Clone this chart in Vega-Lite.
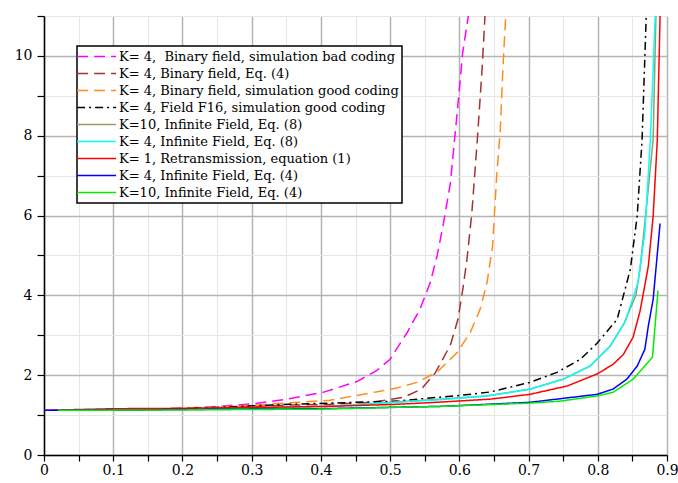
{
  "$schema": "https://vega.github.io/schema/vega-lite/v6.json",
  "width": 623,
  "height": 439,
  "autosize": {"type": "none"},
  "padding": {"left": 44, "top": 16, "right": 11, "bottom": 28},
  "background": "white",
  "config": {
    "view": {"stroke": null},
    "font": "DejaVu Serif",
    "legend": {
      "orient": "none",
      "legendX": 33,
      "legendY": 30,
      "strokeColor": "black",
      "strokeWidth": 1.5,
      "fillColor": "white",
      "padding": 3,
      "cornerRadius": 0,
      "labelFont": "DejaVu Serif",
      "labelFontSize": 13,
      "labelColor": "black",
      "labelLimit": 400,
      "labelOffset": 24,
      "symbolType": "M-1.6,0H4.4",
      "symbolSize": 169,
      "symbolStrokeWidth": 1.5,
      "rowPadding": 2
    }
  },
  "data": {
    "values": [
      {"s": "m", "x": 0.06, "y": 1.12}, {"s": "m", "x": 0.12, "y": 1.13}, {"s": "m", "x": 0.2, "y": 1.17}, {"s": "m", "x": 0.254, "y": 1.22}, {"s": "m", "x": 0.3, "y": 1.28}, {"s": "m", "x": 0.351, "y": 1.4}, {"s": "m", "x": 0.403, "y": 1.57}, {"s": "m", "x": 0.452, "y": 1.84}, {"s": "m", "x": 0.481, "y": 2.12}, {"s": "m", "x": 0.5, "y": 2.4}, {"s": "m", "x": 0.524, "y": 3.05}, {"s": "m", "x": 0.543, "y": 3.65}, {"s": "m", "x": 0.558, "y": 4.32}, {"s": "m", "x": 0.568, "y": 5.0}, {"s": "m", "x": 0.577, "y": 5.8}, {"s": "m", "x": 0.587, "y": 6.8}, {"s": "m", "x": 0.597, "y": 8.6}, {"s": "m", "x": 0.605, "y": 10.1}, {"s": "m", "x": 0.613, "y": 11},
      {"s": "b", "x": 0.06, "y": 1.12}, {"s": "b", "x": 0.15, "y": 1.14}, {"s": "b", "x": 0.25, "y": 1.18}, {"s": "b", "x": 0.355, "y": 1.25}, {"s": "b", "x": 0.413, "y": 1.27}, {"s": "b", "x": 0.475, "y": 1.32}, {"s": "b", "x": 0.52, "y": 1.45}, {"s": "b", "x": 0.545, "y": 1.65}, {"s": "b", "x": 0.565, "y": 2.05}, {"s": "b", "x": 0.587, "y": 2.75}, {"s": "b", "x": 0.598, "y": 3.4}, {"s": "b", "x": 0.605, "y": 4.15}, {"s": "b", "x": 0.611, "y": 4.9}, {"s": "b", "x": 0.618, "y": 6.05}, {"s": "b", "x": 0.626, "y": 7.9}, {"s": "b", "x": 0.633, "y": 9.7}, {"s": "b", "x": 0.637, "y": 11},
      {"s": "o", "x": 0.06, "y": 1.12}, {"s": "o", "x": 0.15, "y": 1.14}, {"s": "o", "x": 0.273, "y": 1.22}, {"s": "o", "x": 0.366, "y": 1.32}, {"s": "o", "x": 0.413, "y": 1.37}, {"s": "o", "x": 0.438, "y": 1.45}, {"s": "o", "x": 0.486, "y": 1.6}, {"s": "o", "x": 0.51, "y": 1.68}, {"s": "o", "x": 0.539, "y": 1.82}, {"s": "o", "x": 0.568, "y": 2.08}, {"s": "o", "x": 0.597, "y": 2.57}, {"s": "o", "x": 0.616, "y": 3.08}, {"s": "o", "x": 0.63, "y": 3.65}, {"s": "o", "x": 0.64, "y": 4.32}, {"s": "o", "x": 0.648, "y": 5.23}, {"s": "o", "x": 0.654, "y": 7.0}, {"s": "o", "x": 0.659, "y": 8.1}, {"s": "o", "x": 0.663, "y": 9.7}, {"s": "o", "x": 0.667, "y": 11},
      {"s": "k", "x": 0.06, "y": 1.12}, {"s": "k", "x": 0.2, "y": 1.16}, {"s": "k", "x": 0.355, "y": 1.27}, {"s": "k", "x": 0.51, "y": 1.35}, {"s": "k", "x": 0.572, "y": 1.45}, {"s": "k", "x": 0.605, "y": 1.5}, {"s": "k", "x": 0.645, "y": 1.58}, {"s": "k", "x": 0.702, "y": 1.82}, {"s": "k", "x": 0.741, "y": 2.07}, {"s": "k", "x": 0.775, "y": 2.4}, {"s": "k", "x": 0.799, "y": 2.8}, {"s": "k", "x": 0.828, "y": 3.4}, {"s": "k", "x": 0.847, "y": 4.65}, {"s": "k", "x": 0.857, "y": 6.0}, {"s": "k", "x": 0.864, "y": 7.9}, {"s": "k", "x": 0.87, "y": 11},
      {"s": "g", "x": 0.06, "y": 1.12}, {"s": "g", "x": 0.2, "y": 1.15}, {"s": "g", "x": 0.413, "y": 1.22}, {"s": "g", "x": 0.572, "y": 1.4}, {"s": "g", "x": 0.64, "y": 1.48}, {"s": "g", "x": 0.702, "y": 1.65}, {"s": "g", "x": 0.75, "y": 1.9}, {"s": "g", "x": 0.789, "y": 2.23}, {"s": "g", "x": 0.818, "y": 2.73}, {"s": "g", "x": 0.838, "y": 3.3}, {"s": "g", "x": 0.855, "y": 4.0}, {"s": "g", "x": 0.861, "y": 4.65}, {"s": "g", "x": 0.872, "y": 6.5}, {"s": "g", "x": 0.88, "y": 7.9}, {"s": "g", "x": 0.884, "y": 11},
      {"s": "c", "x": 0.06, "y": 1.12}, {"s": "c", "x": 0.2, "y": 1.15}, {"s": "c", "x": 0.413, "y": 1.22}, {"s": "c", "x": 0.577, "y": 1.39}, {"s": "c", "x": 0.64, "y": 1.48}, {"s": "c", "x": 0.702, "y": 1.65}, {"s": "c", "x": 0.75, "y": 1.9}, {"s": "c", "x": 0.789, "y": 2.23}, {"s": "c", "x": 0.818, "y": 2.73}, {"s": "c", "x": 0.84, "y": 3.35}, {"s": "c", "x": 0.858, "y": 4.32}, {"s": "c", "x": 0.868, "y": 5.57}, {"s": "c", "x": 0.876, "y": 7.9}, {"s": "c", "x": 0.883, "y": 11},
      {"s": "r", "x": 0.0, "y": 1.12}, {"s": "r", "x": 0.1, "y": 1.16}, {"s": "r", "x": 0.2, "y": 1.17}, {"s": "r", "x": 0.341, "y": 1.2}, {"s": "r", "x": 0.413, "y": 1.22}, {"s": "r", "x": 0.51, "y": 1.27}, {"s": "r", "x": 0.577, "y": 1.33}, {"s": "r", "x": 0.645, "y": 1.4}, {"s": "r", "x": 0.702, "y": 1.52}, {"s": "r", "x": 0.756, "y": 1.73}, {"s": "r", "x": 0.799, "y": 2.03}, {"s": "r", "x": 0.822, "y": 2.27}, {"s": "r", "x": 0.837, "y": 2.52}, {"s": "r", "x": 0.851, "y": 2.95}, {"s": "r", "x": 0.861, "y": 3.6}, {"s": "r", "x": 0.873, "y": 4.73}, {"s": "r", "x": 0.88, "y": 5.98}, {"s": "r", "x": 0.886, "y": 7.9}, {"s": "r", "x": 0.89, "y": 11},
      {"s": "u", "x": 0.0, "y": 1.12}, {"s": "u", "x": 0.2, "y": 1.14}, {"s": "u", "x": 0.4, "y": 1.16}, {"s": "u", "x": 0.577, "y": 1.22}, {"s": "u", "x": 0.702, "y": 1.32}, {"s": "u", "x": 0.799, "y": 1.52}, {"s": "u", "x": 0.822, "y": 1.65}, {"s": "u", "x": 0.842, "y": 1.9}, {"s": "u", "x": 0.857, "y": 2.23}, {"s": "u", "x": 0.868, "y": 2.65}, {"s": "u", "x": 0.873, "y": 3.23}, {"s": "u", "x": 0.88, "y": 3.9}, {"s": "u", "x": 0.89, "y": 5.8},
      {"s": "n", "x": 0.02, "y": 1.12}, {"s": "n", "x": 0.2, "y": 1.13}, {"s": "n", "x": 0.4, "y": 1.15}, {"s": "n", "x": 0.577, "y": 1.22}, {"s": "n", "x": 0.702, "y": 1.3}, {"s": "n", "x": 0.746, "y": 1.35}, {"s": "n", "x": 0.799, "y": 1.48}, {"s": "n", "x": 0.822, "y": 1.57}, {"s": "n", "x": 0.851, "y": 1.9}, {"s": "n", "x": 0.864, "y": 2.15}, {"s": "n", "x": 0.879, "y": 2.45}, {"s": "n", "x": 0.887, "y": 4.12}
    ]
  },
  "transform": [
    {"lookup": "s", "from": {"data": {"values": [
      {"s": "m", "name": "K= 4,\u00a0 Binary field, simulation bad coding"},
      {"s": "b", "name": "K= 4, Binary field, Eq. (4)"},
      {"s": "o", "name": "K= 4, Binary field, simulation good coding"},
      {"s": "k", "name": "K= 4, Field F16, simulation good coding"},
      {"s": "g", "name": "K=10, Infinite Field, Eq. (8)"},
      {"s": "c", "name": "K= 4, Infinite Field, Eq. (8)"},
      {"s": "r", "name": "K= 1, Retransmission, equation (1)"},
      {"s": "u", "name": "K= 4, Infinite Field, Eq. (4)"},
      {"s": "n", "name": "K=10, Infinite Field, Eq. (4)"}
    ]}, "key": "s", "fields": ["name"]}}
  ],
  "mark": {"type": "line", "strokeWidth": 1.5, "clip": true},
  "encoding": {
    "x": {
      "field": "x", "type": "quantitative",
      "scale": {"domain": [0, 0.9], "nice": false, "zero": false},
      "axis": {
        "title": null,
        "values": [0, 0.05, 0.1, 0.15, 0.2, 0.25, 0.3, 0.35, 0.4, 0.45, 0.5, 0.55, 0.6, 0.65, 0.7, 0.75, 0.8, 0.85, 0.9],
        "labelExpr": "round(datum.value*20) % 2 === 0 ? format(datum.value, '.1~f') : ''",
        "labelFont": "DejaVu Serif", "labelFontSize": 14, "labelColor": "black",
        "labelPadding": 2, "labelOverlap": false, "labelFlush": false, "labelBound": false,
        "domainColor": "black", "domainWidth": 1.5,
        "tickColor": "black", "tickWidth": 1.2, "tickSize": 6,
        "grid": true,
        "gridColor": {"condition": {"test": "round(datum.value*20) % 2 === 1", "value": "#e6e6e6"}, "value": "#b4b4b4"},
        "gridWidth": {"condition": {"test": "round(datum.value*20) % 2 === 1", "value": 1}, "value": 1.5}
      }
    },
    "y": {
      "field": "y", "type": "quantitative",
      "scale": {"domain": [0, 11], "nice": false, "zero": false},
      "axis": {
        "title": null,
        "values": [0, 1, 2, 3, 4, 5, 6, 7, 8, 9, 10, 11],
        "labelExpr": "datum.value % 2 === 0 && datum.value <= 10 ? datum.label : ''",
        "labelFont": "DejaVu Serif", "labelFontSize": 14, "labelColor": "black",
        "labelPadding": 5, "labelOverlap": false, "labelFlush": false, "labelBound": false,
        "domainColor": "black", "domainWidth": 1.5,
        "tickColor": "black", "tickWidth": 1.2, "tickSize": 7,
        "grid": true,
        "gridColor": {"condition": {"test": "datum.value % 2 === 1", "value": "#e6e6e6"}, "value": "#b4b4b4"},
        "gridWidth": {"condition": {"test": "datum.value % 2 === 1", "value": 1}, "value": 1.5}
      }
    },
    "detail": {"field": "s"},
    "color": {
      "field": "name", "type": "nominal",
      "scale": {
        "domain": ["K= 4,\u00a0 Binary field, simulation bad coding", "K= 4, Binary field, Eq. (4)", "K= 4, Binary field, simulation good coding", "K= 4, Field F16, simulation good coding", "K=10, Infinite Field, Eq. (8)", "K= 4, Infinite Field, Eq. (8)", "K= 1, Retransmission, equation (1)", "K= 4, Infinite Field, Eq. (4)", "K=10, Infinite Field, Eq. (4)"],
        "range": ["#ff00ff", "#a83232", "#ff8c1a", "#000000", "#a09a6a", "#00ffff", "#ff0000", "#0000ff", "#00ee00"]
      },
      "legend": {"title": null}
    },
    "strokeDash": {
      "field": "name", "type": "nominal",
      "scale": {
        "domain": ["K= 4,\u00a0 Binary field, simulation bad coding", "K= 4, Binary field, Eq. (4)", "K= 4, Binary field, simulation good coding", "K= 4, Field F16, simulation good coding", "K=10, Infinite Field, Eq. (8)", "K= 4, Infinite Field, Eq. (8)", "K= 1, Retransmission, equation (1)", "K= 4, Infinite Field, Eq. (4)", "K=10, Infinite Field, Eq. (4)"],
        "range": [[11, 6], [11, 6], [11, 6], [8, 4, 2, 4], [1, 0], [1, 0], [1, 0], [1, 0], [1, 0]]
      },
      "legend": {"title": null}
    }
  }
}
